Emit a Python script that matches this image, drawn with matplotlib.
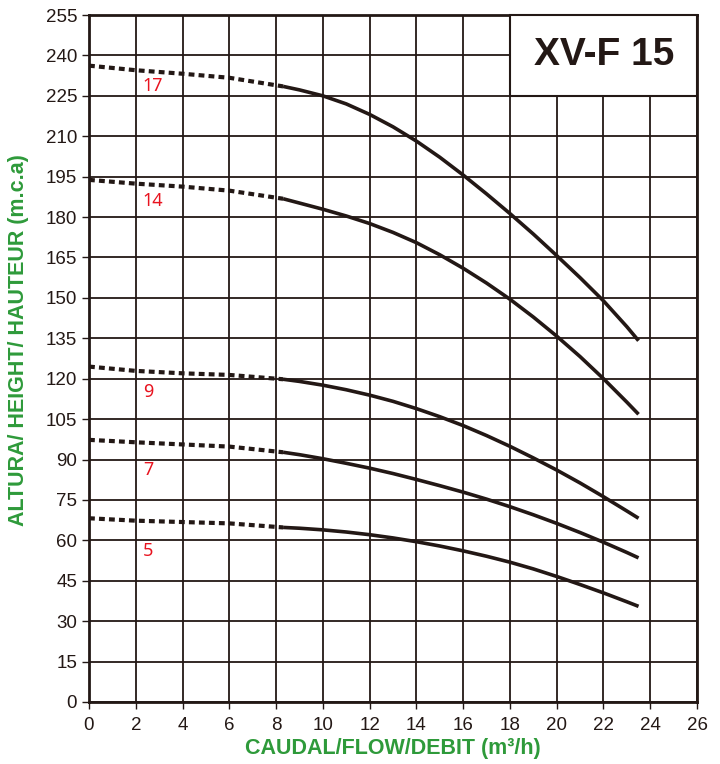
import numpy as np
import matplotlib
matplotlib.use('Agg')
import matplotlib.pyplot as plt
from matplotlib.patches import Rectangle

plt.rcParams['font.family'] = ['Liberation Sans Narrow', 'Liberation Sans', 'DejaVu Sans']

# curve data (flow m3/h, head m)
x_dash = [0, 2, 4, 6, 8.3]
x_solid = [8.3, 9, 10, 11, 12, 13, 14, 15, 16, 17, 18, 19, 20, 21, 22, 23, 23.5]

stages = ['17', '14', '9', '7', '5']
h_dash = {
    '17': [236.2, 234.5, 233.2, 231.7, 228.5],
    '14': [193.8, 192.4, 191.3, 189.8, 186.8],
    '9': [124.5, 122.9, 122.0, 121.4, 119.8],
    '7': [97.3, 96.4, 95.6, 94.8, 92.7],
    '5': [68.2, 67.3, 66.8, 66.3, 64.8],
}
h_solid = {
    '17': [228.5, 227.2, 225.0, 222.0, 218.1, 213.5, 208.2, 202.2, 195.6, 188.6,
           181.3, 173.7, 165.7, 157.5, 148.9, 139.3, 134.1],
    '14': [186.8, 185.2, 182.9, 180.4, 177.6, 174.3, 170.5, 166.0, 161.0, 155.5,
           149.5, 142.9, 135.8, 128.2, 120.0, 111.3, 106.8],
    '9': [119.8, 119.0, 117.6, 115.9, 113.9, 111.6, 108.9, 105.9, 102.6, 98.9,
          94.9, 90.6, 86.1, 81.3, 76.2, 70.9, 68.2],
    '7': [92.7, 91.8, 90.3, 88.6, 86.8, 84.8, 82.6, 80.3, 77.9, 75.3,
          72.5, 69.5, 66.3, 62.9, 59.3, 55.5, 53.5],
    '5': [64.8, 64.5, 63.9, 63.1, 62.1, 60.9, 59.5, 57.9, 56.1, 54.1,
          51.9, 49.4, 46.6, 43.6, 40.5, 37.2, 35.5],
}
label_pos = {'17': 228.7, '14': 186, '9': 115, '7': 86, '5': 56}

dark = '#231815'
green = '#2e9a3a'

fig = plt.figure(figsize=(7.2, 7.64), dpi=100)
ax = fig.add_axes([89/720, 62/764, 608/720, 687/764])

ax.set_xlim(0, 26)
ax.set_ylim(0, 255)
ax.set_xticks(np.arange(0, 27, 2))
ax.set_yticks(np.arange(0, 256, 15))
ax.grid(True, color=dark, lw=1.3, zorder=0)
for s in ax.spines.values():
    s.set_color(dark)
    s.set_linewidth(2)
ax.tick_params(colors=dark, labelsize=13.5, length=5, width=1)
ax.tick_params(axis='x', pad=6)

for st in stages:
    ax.plot(x_dash, h_dash[st], color=dark, lw=3, ls=(0, (1.4, 1.0)), zorder=3)
    ax.plot(x_solid, h_solid[st], color=dark, lw=2.6, zorder=3,
            solid_capstyle='butt', solid_joinstyle='round')
    ax.text(2.3, label_pos[st], st, color='#e8131f', fontsize=13,
            family=['Noto Sans', 'DejaVu Sans'], va='center', zorder=4)

# title box
ax.add_patch(Rectangle((18, 225), 8, 30, facecolor='white', edgecolor=dark,
                       lw=1.5, zorder=5, clip_on=False))
ax.text(22.05, 240, 'XV-F 15', fontsize=28, fontweight='bold', color=dark,
        ha='center', va='center', zorder=6, family=['Liberation Sans', 'DejaVu Sans'])

ax.set_xlabel('CAUDAL/FLOW/DEBIT (m³/h)', color=green, fontsize=15.5, fontweight='bold')
ax.set_ylabel('ALTURA/ HEIGHT/ HAUTEUR (m.c.a)', color=green, fontsize=15.5, fontweight='bold')
ax.xaxis.set_label_coords(0.5, -0.053)
ax.yaxis.set_label_coords(-0.098, 0.527)

fig.savefig('out.png', dpi=100)
